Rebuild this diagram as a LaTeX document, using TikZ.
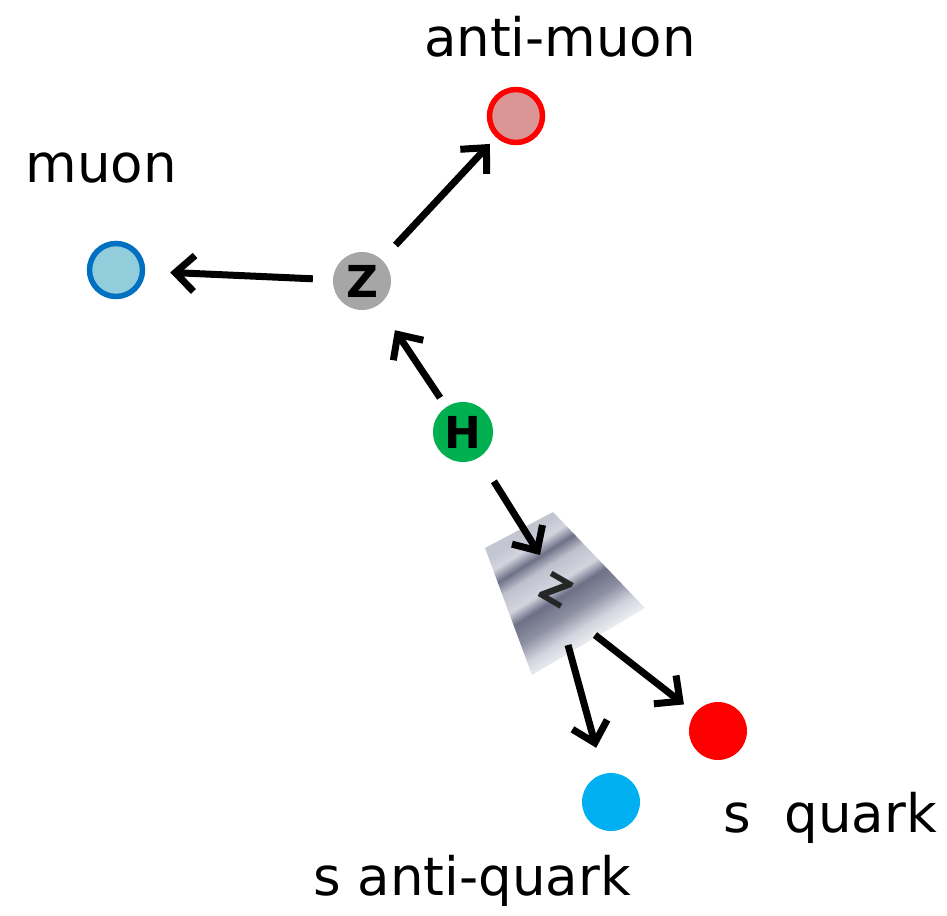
\documentclass[tikz,border=0pt]{standalone}
\usepackage{fontspec}
\setmainfont{DejaVu Sans}
\usetikzlibrary{arrows.meta}
\definecolor{mublue}{RGB}{0,112,192}
\definecolor{mufill}{RGB}{146,205,220}
\definecolor{amred}{RGB}{255,0,0}
\definecolor{amfill}{RGB}{217,150,148}
\definecolor{zgray}{RGB}{166,166,166}
\definecolor{hgreen}{RGB}{0,176,80}
\definecolor{aqblue}{RGB}{0,176,240}
\definecolor{bandA}{RGB}{210,212,222}
\definecolor{bandB}{RGB}{110,112,135}
\pgfdeclareverticalshading{zband}{100bp}{%
 color(0bp)=(white); color(30bp)=(white); color(38bp)=(bandA); color(44bp)=(bandB!70!bandA);
 color(50bp)=(bandB); color(54bp)=(bandA); color(60bp)=(bandA!80!bandB); color(64bp)=(bandB);
 color(68bp)=(bandA); color(72bp)=(bandA!85!bandB); color(100bp)=(bandA)}
\tikzset{
 lbl/.style={anchor=base, font=\fontsize{53}{60}\selectfont, inner sep=0},
 ptl/.style={circle, inner sep=0, minimum size=#1},
 arr/.style={line width=7pt, -{Straight Barb[length=19pt,width=36pt]}},
 bold/.style={font=\fontsize{44}{50}\selectfont\bfseries}
}
\begin{document}
\begin{tikzpicture}[x=1pt,y=-1pt]
\useasboundingbox (0,0) rectangle (947,915);
% shaded Z trapezoid
\shade[shading=zband, shading angle=32]
 (485,548) -- (553,512) -- (645,608) -- (532,675) -- cycle;
\node[bold, rotate=-30, font=\fontsize{40}{44}\selectfont\bfseries, text=black!85] (z2) at (556,590) {Z};
% particles
\node[ptl=53, draw=mublue, line width=5.5pt, fill=mufill] (mu) at (116,270) {};
\node[ptl=53, draw=amred, line width=5.5pt, fill=amfill] (am) at (516,116) {};
\node[ptl=58, fill=zgray, bold] (z1) at (362,281) {Z};
\node[ptl=60, fill=hgreen, bold] (h) at (463,432) {H};
\node[ptl=58, fill=amred] (sq) at (718,731) {};
\node[ptl=58, fill=aqblue] (saq) at (611,802) {};
% free ends at the shaded Z
\coordinate (ztop) at (540,555);
\coordinate (zbl) at (568,645);
\coordinate (zbr) at (595,635);
% arrows
\draw[arr, shorten <=20pt, shorten >=25pt] (z1) -- (mu);
\draw[arr, shorten <=20pt, shorten >=9pt] (z1) -- (am);
\draw[arr, shorten <=11pt, shorten >=30pt] (h) -- (z1);
\draw[arr, shorten <=28pt] (h) -- (ztop);
\draw[arr, shorten >=27pt] (zbl) -- (saq);
\draw[arr, shorten >=14pt] (zbr) -- (sq);
% labels
\node[lbl] (lam) at (560,57) {anti-muon};
\node[lbl] (lmu) at (101,182) {muon};
\node[lbl] (lsq) at (830,832) {s\ \ quark};
\node[lbl] (lsaq) at (472,895) {s anti-quark};
\end{tikzpicture}
\end{document}
